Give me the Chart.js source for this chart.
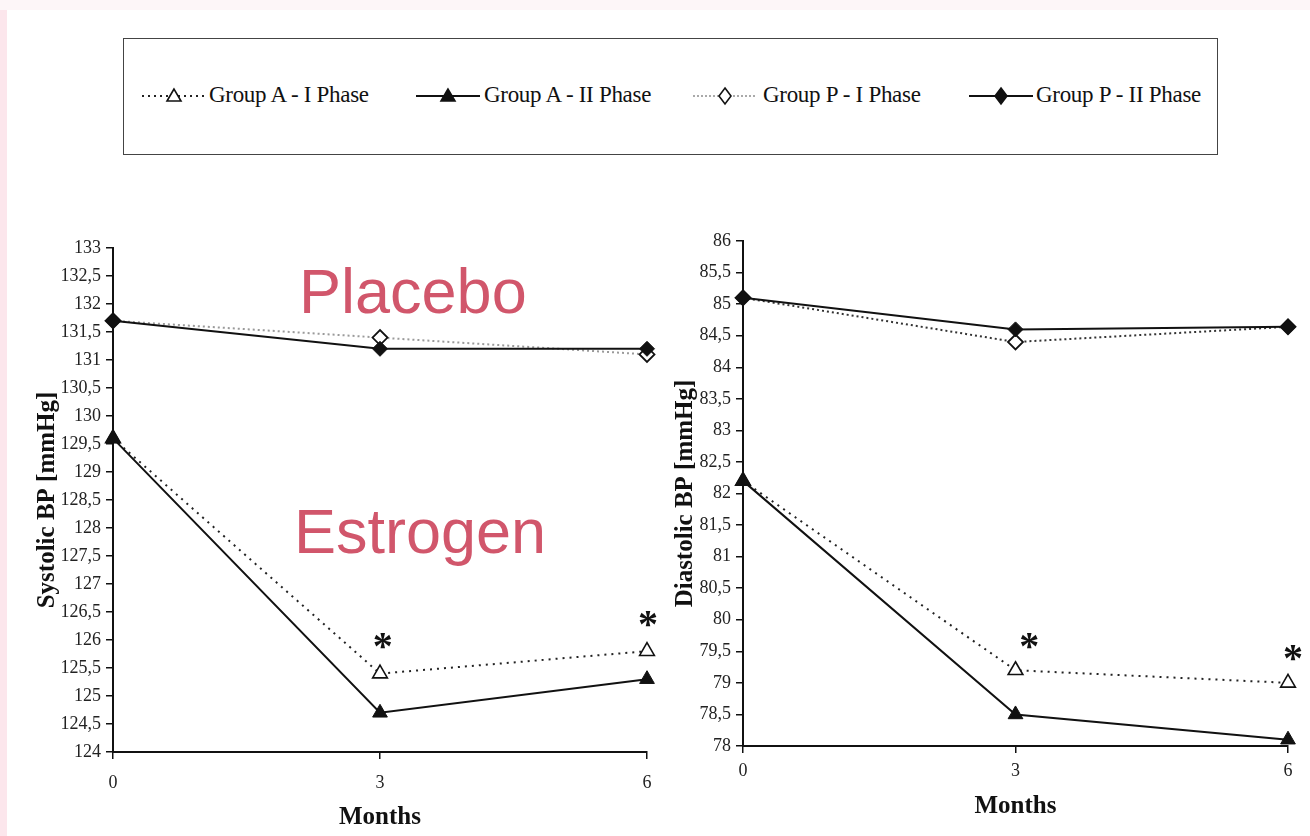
<!DOCTYPE html>
<html><head><meta charset="utf-8">
<script src="https://cdn.jsdelivr.net/npm/chart.js@4.4.0/dist/chart.umd.min.js"></script>
<style>
html,body{margin:0;padding:0;background:#fff;width:1310px;height:836px;overflow:hidden;position:relative;font-family:"Liberation Serif","Times New Roman",serif;}
#stripL{position:absolute;left:0;top:0;width:7px;height:836px;background:#fce6ec;}
#stripT{position:absolute;left:0;top:0;width:1310px;height:10px;background:#fdf6f8;}
#legend{position:absolute;left:123px;top:38px;width:1095px;height:117px;box-sizing:border-box;border:1.5px solid #444;}
.li{position:absolute;top:0;height:117px;}
.li svg{position:absolute;top:47px;}
.li span{position:absolute;top:44px;font-size:23px;line-height:23px;color:#111;white-space:nowrap;letter-spacing:-0.3px;}
.big{position:absolute;font-family:"Liberation Sans",Arial,sans-serif;font-size:63px;line-height:63px;color:#d1566b;white-space:nowrap;}
.cv{position:absolute;}
</style></head>
<body>
<div id="stripL"></div><div id="stripT"></div>
<div id="legend"></div>
<canvas id="c1" class="cv" width="680" height="606" style="left:0;top:230px;"></canvas>
<canvas id="c2" class="cv" width="670" height="615" style="left:640px;top:221px;"></canvas>
<div class="big" style="left:299px;top:260px;">Placebo</div>
<div class="big" style="left:294px;top:500px;">Estrogen</div>
<script>
// ---- data ----
const months = [0, 3, 6];
const seriesNames = ['Group A - I Phase', 'Group A - II Phase', 'Group P - I Phase', 'Group P - II Phase'];
const sysA1 = [129.6, 125.4, 125.8];
const sysA2 = [129.6, 124.7, 125.3];
const sysP1 = [131.7, 131.4, 131.1];
const sysP2 = [131.7, 131.2, 131.2];
const diaA1 = [82.2, 79.2, 79.0];
const diaA2 = [82.2, 78.5, 78.1];
const diaP1 = [85.1, 84.4, 84.64];
const diaP2 = [85.1, 84.6, 84.64];
const sysRange = [124, 133];
const diaRange = [78, 86];
const tickStep = 0.5;
const monthTicks = [0, 3, 6];
const sysStars = [[3.03, 126.0], [6.01, 126.4]];
const diaStars = [[3.15, 79.68], [6.055, 79.49]];
const titles = {sys: 'Systolic BP [mmHg]', dia: 'Diastolic BP [mmHg]', x: 'Months'};

// ---- legend ----
const legendDefs = [
  {sx: 18, w: 64, tx: 85, dash: '2 4', color: '#222', shape: 'tri', fill: '#fff'},
  {sx: 292, w: 64, tx: 360, dash: '', color: '#111', shape: 'tri', fill: '#111'},
  {sx: 569, w: 64, tx: 639, dash: '2 2', color: '#aaa', shape: 'dia', fill: '#fff'},
  {sx: 845, w: 64, tx: 912, dash: '', color: '#111', shape: 'dia', fill: '#111'}
];
const leg = document.getElementById('legend');
seriesNames.forEach((n, i) => {
  const d = legendDefs[i];
  const el = document.createElement('div');
  el.className = 'li';
  const cx = d.w / 2;
  let shape;
  if (d.shape === 'tri') shape = `<polygon points="${cx},3 ${cx-7},15 ${cx+7},15" fill="${d.fill}" stroke="#111" stroke-width="1.6"/>`;
  else shape = `<polygon points="${cx},2 ${cx+6},10 ${cx},18 ${cx-6},10" fill="${d.fill}" stroke="#111" stroke-width="1.6"/>`;
  el.innerHTML = `<svg width="${d.w}" height="20" style="left:${d.sx}px"><line x1="0" y1="10" x2="${d.w}" y2="10" stroke="${d.color}" stroke-width="2" ${d.dash ? `stroke-dasharray="${d.dash}"` : ''}/>${shape}</svg><span style="left:${d.tx}px">${n}</span>`;
  leg.appendChild(el);
});

// ---- charts ----
Chart.defaults.font.family = "'Liberation Serif', 'Times New Roman', serif";
Chart.defaults.font.size = 18;

const starPlugin = {
  id: 'stars',
  afterDatasetsDraw(chart, args, opts) {
    const {ctx, scales: {x, y}} = chart;
    ctx.save();
    ctx.font = 'bold 40px "Liberation Serif"';
    ctx.fillStyle = '#111';
    ctx.textAlign = 'center';
    ctx.textBaseline = 'alphabetic';
    for (const [mx, my] of opts.marks) ctx.fillText('*', x.getPixelForValue(mx), y.getPixelForValue(my) + 19);
    ctx.restore();
  }
};

function pts(vals) { return months.map((m, i) => ({x: m, y: vals[i]})); }

const tickFont = {family: "'Liberation Serif', 'Times New Roman', serif", size: 18};
const titleFont = {family: "'Liberation Serif', 'Times New Roman', serif", size: 25, weight: 'bold'};

function makeChart(id, sets, range, stars, yTitle, geo) {
  const ds = [
    {label: seriesNames[0], order: 3, data: pts(sets[0]), borderColor: '#222', borderWidth: 2, borderDash: [2, 5], pointStyle: 'triangle', pointRadius: 8.5, pointBackgroundColor: '#fff', pointBorderColor: '#111', pointBorderWidth: 1.6},
    {label: seriesNames[1], order: 1, data: pts(sets[1]), borderColor: '#111', borderWidth: 2, pointStyle: 'triangle', pointRadius: 8.5, pointBackgroundColor: '#111', pointBorderColor: '#111', pointBorderWidth: 1},
    {label: seriesNames[2], order: 2, data: pts(sets[2]), borderColor: geo.p1color, borderWidth: 2, borderDash: [2, 3], pointStyle: 'rectRot', pointRadius: 7.5, pointBackgroundColor: '#fff', pointBorderColor: '#111', pointBorderWidth: 1.8},
    {label: seriesNames[3], order: 0, data: pts(sets[3]), borderColor: '#111', borderWidth: 2, pointStyle: 'rectRot', pointRadius: 7.5, pointBackgroundColor: '#111', pointBorderColor: '#111', pointBorderWidth: 1}
  ];
  ds.forEach(d => { d.tension = 0; d.clip = false; d.fill = false; });
  return new Chart(document.getElementById(id), {
    type: 'line',
    data: {datasets: ds},
    plugins: [starPlugin],
    options: {
      responsive: false, animation: false, devicePixelRatio: 1,
      layout: {padding: {left: 0, top: geo.top, right: geo.right, bottom: 0}},
      plugins: {legend: {display: false}, tooltip: {enabled: false}, stars: {marks: stars}},
      scales: {
        x: {
          type: 'linear', min: 0, max: 6,
          afterBuildTicks: s => { s.ticks = monthTicks.map(v => ({value: v})); },
          afterFit: s => { s.height = geo.xh; },
          ticks: {color: '#222', font: tickFont, padding: geo.xpad, autoSkip: false, maxRotation: 0},
          grid: {drawOnChartArea: false, drawTicks: true, tickLength: 7, color: '#111', lineWidth: 1.5},
          border: {display: true, color: '#111', width: 2},
          title: {display: true, text: titles.x, color: '#111', font: titleFont, padding: {top: 0, bottom: geo.xtb}}
        },
        y: {
          type: 'linear', min: range[0], max: range[1],
          ticks: {stepSize: tickStep, autoSkip: false, color: '#222', font: tickFont, padding: 5,
            callback: v => String(v).replace('.', ',')},
          afterFit: s => { s.width = geo.yw; },
          grid: {drawOnChartArea: false, drawTicks: true, tickLength: 7, color: '#111', lineWidth: 1.5},
          border: {display: true, color: '#111', width: 2},
          title: {display: true, text: yTitle, color: '#111', font: titleFont, padding: {top: geo.ytp, bottom: 0}}
        }
      }
    }
  });
}

makeChart('c1', [sysA1, sysA2, sysP1, sysP2], sysRange, sysStars, titles.sys,
  {top: 18, right: 33, xh: 84, xpad: 13, xtb: 3, yw: 113, ytp: 33, p1color: '#9a9a9a'});
makeChart('c2', [diaA1, diaA2, diaP1, diaP2], diaRange, diaStars, titles.dia,
  {top: 20, right: 22, xh: 90, xpad: 7, xtb: 14, yw: 103, ytp: 31, p1color: '#333'});
</script>
</body></html>
